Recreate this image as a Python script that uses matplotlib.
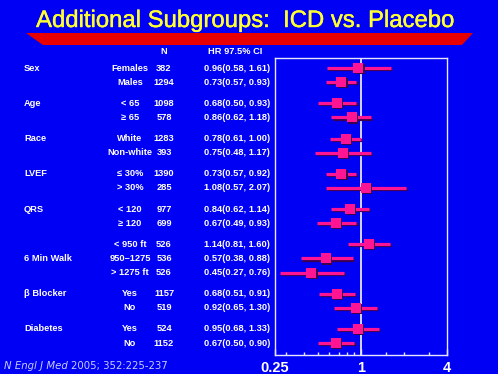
import numpy as np
import matplotlib
matplotlib.use("Agg")
import matplotlib.pyplot as plt
import matplotlib.patches as mpatches
import matplotlib.patheffects as pe
import matplotlib.transforms as mtransforms
from matplotlib.ticker import FixedLocator, NullFormatter

# ---- data ----
groups = ["Sex", "Age", "Race", "LVEF", "QRS", "6 Min Walk", "\u03b2 Blocker", "Diabetes"]
subgroups = [
    ["Females", "Males"],
    ["< 65", "\u2265 65"],
    ["White", "Non-white"],
    ["\u2264 30%", "> 30%"],
    ["< 120", "\u2265 120"],
    ["< 950 ft", "950\u20131275", "> 1275 ft"],
    ["Yes", "No"],
    ["Yes", "No"],
]
n_pts = [382, 1294, 1098, 578, 1283, 393, 1390, 285, 977, 699,
         526, 536, 526, 1157, 519, 524, 1152]
hr = [0.96, 0.73, 0.68, 0.86, 0.78, 0.75, 0.73, 1.08, 0.84, 0.67,
      1.14, 0.57, 0.45, 0.68, 0.92, 0.95, 0.67]
ci_lo = [0.58, 0.57, 0.50, 0.62, 0.61, 0.48, 0.57, 0.57, 0.62, 0.49,
         0.81, 0.38, 0.27, 0.51, 0.65, 0.68, 0.50]
ci_hi = [1.61, 0.93, 0.93, 1.18, 1.00, 1.17, 0.92, 2.07, 1.14, 0.93,
         1.60, 0.88, 0.76, 0.91, 1.30, 1.33, 0.90]
label_row = [0, 0, 0, 0, 0, 1, 0, 0]   # which subgroup row carries the group name
x_ticks = [0.25, 1, 4]
x_tick_labels = ["0.25", "1", "4"]

BG = "#0000F4"
PINK = "#FF1493"
SHADOW = "#3A0050"
FRAME = "#E6E6FF"
W, H = 498, 374
NARROW = ["Liberation Sans Narrow", "Liberation Sans", "DejaVu Sans"]

# row positions: 1 unit inside a group, 1.5 between groups
ypos = []
y = 0.0
for subs in subgroups:
    for _ in subs:
        ypos.append(y)
        y += 1.0
    y += 0.5
ypos = np.array(ypos)

fig = plt.figure(figsize=(W / 100, H / 100), dpi=100)
fig.patch.set_facecolor(BG)

ax = fig.add_axes([275 / W, 1 - 355 / H, 172 / W, (355 - 58) / H])
ax.set_facecolor(BG)
ax.set_xscale("log", base=2)
ax.set_xlim(0.25, 4)
ax.set_ylim(ypos[-1] + 0.85, ypos[0] - 0.71)

for sp in ax.spines.values():
    sp.set_color(FRAME)
    sp.set_linewidth(1.0)

ax.axvline(1, color=FRAME, lw=1.3, zorder=1)

# dark drop shadow under the CI bars and squares
shadow_tr = mtransforms.offset_copy(ax.transData, fig=fig, x=1.2, y=-1.2, units="dots")
ax.hlines(ypos, ci_lo, ci_hi, color=SHADOW, lw=2.3, transform=shadow_tr, zorder=2)
ax.hlines(ypos, ci_lo, ci_hi, color=PINK, lw=2.3, zorder=3)
ax.plot(hr, ypos, ls="none", marker="s", ms=7.3, color=SHADOW, mew=0,
        transform=shadow_tr, zorder=4)
ax.plot(hr, ypos, ls="none", marker="s", ms=7.3, color=PINK, mew=0, zorder=5)

ax.xaxis.set_major_locator(FixedLocator(x_ticks))
ax.set_xticklabels(x_tick_labels)
ax.xaxis.set_minor_locator(FixedLocator([0.3, 0.4, 0.5, 0.6, 0.7, 0.8, 0.9, 1.5, 2, 3]))
ax.xaxis.set_minor_formatter(NullFormatter())
ax.tick_params(axis="x", which="both", direction="in", colors=FRAME, width=1)
ax.tick_params(axis="x", which="major", length=4, pad=4, labelsize=10.5,
               labelcolor="white")
ax.tick_params(axis="x", which="minor", length=2.5)
for t in ax.get_xticklabels():
    t.set_fontweight("bold")
    t.set_family("Liberation Sans")
ax.set_yticks([])

# ---- table text ----
tr = mtransforms.blended_transform_factory(fig.transFigure, ax.transData)
tkw = dict(color="white", fontsize=6.7, fontweight="bold", family=NARROW,
           va="center", transform=tr)

fig.text(164 / W, 1 - 52 / H, "N", ha="center", va="center", color="white",
         fontsize=6.7, fontweight="bold", family=NARROW)
fig.text(235 / W, 1 - 52 / H, "HR 97.5% CI", ha="center", va="center",
         color="white", fontsize=6.7, fontweight="bold", family=NARROW)

k = 0
for gi, subs in enumerate(subgroups):
    fig.text(24 / W, ypos[k + label_row[gi]], groups[gi], ha="left", **tkw)
    for s in subs:
        fig.text(130 / W, ypos[k], s, ha="center", **tkw)
        fig.text(164 / W, ypos[k], str(n_pts[k]), ha="center", **tkw)
        fig.text(270 / W, ypos[k],
                 f"{hr[k]:.2f}({ci_lo[k]:.2f}, {ci_hi[k]:.2f})", ha="right", **tkw)
        k += 1

# ---- title and red bar ----
fig.text(245 / W, 1 - 21 / H, "Additional Subgroups:  ICD vs. Placebo",
         ha="center", va="center", color="#FFFF33", fontsize=17.2,
         family="Liberation Sans",
         path_effects=[pe.withStroke(linewidth=0.3, foreground="#FFFF33")])
bar = mpatches.Polygon(
    [(26 / W, 1 - 33 / H), (473 / W, 1 - 33 / H), (462 / W, 1 - 45 / H),
     (43 / W, 1 - 45 / H)],
    closed=True, facecolor="#E80000", edgecolor="none", transform=fig.transFigure)
fig.patches.append(bar)

# ---- citation ----
cite = fig.text(4 / W, 1 - 366 / H, "N Engl J Med", ha="left", va="center",
                color="#C8CCFF", fontsize=7.3, style="italic", family="DejaVu Sans")
fig.canvas.draw()
bb = cite.get_window_extent()
fig.text((bb.x1 + 3) / W, 1 - 366 / H, "2005; 352:225-237", ha="left",
         va="center", color="#C8CCFF", fontsize=7.3, family="DejaVu Sans")

fig.savefig("out.png", dpi=100, facecolor=BG)
